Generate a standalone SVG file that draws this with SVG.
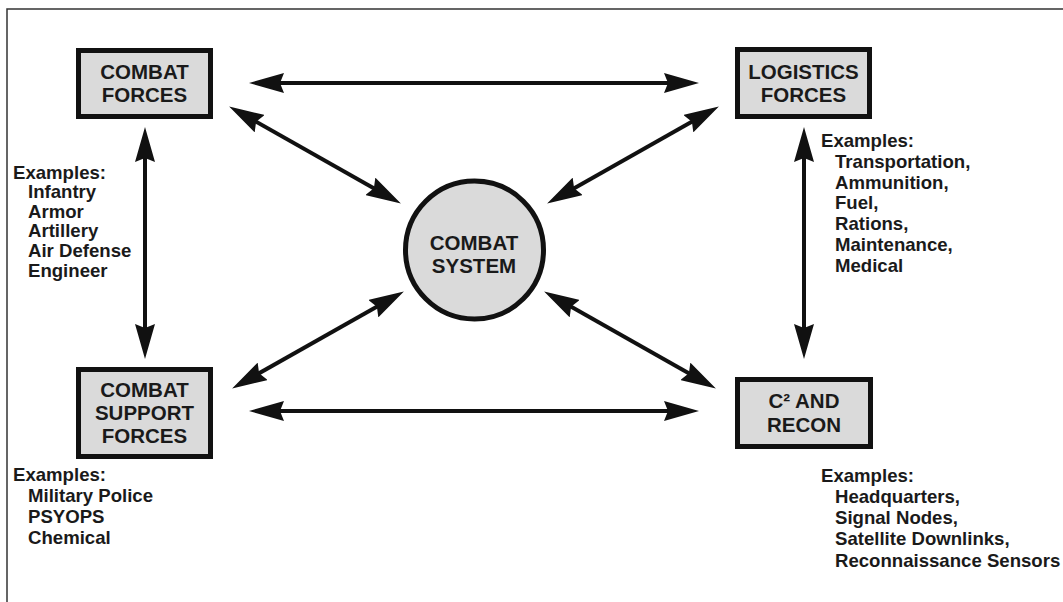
<svg xmlns="http://www.w3.org/2000/svg" width="1063" height="602" viewBox="0 0 1063 602">
<defs>
<style>
.box{fill:#dadada;stroke:#111;stroke-width:5}
.t{font-family:"Liberation Sans",Arial,sans-serif;font-weight:bold;fill:#1a1a1a}
.nt{font-size:20.5px;text-anchor:middle}
.ex{font-size:18.6px}
.c{stroke:#111;stroke-width:4;fill:none;marker-start:url(#ah);marker-end:url(#ah)}
</style>
<marker id="ah" markerUnits="userSpaceOnUse" viewBox="0 0 35 20" refX="14" refY="10" markerWidth="35" markerHeight="20" orient="auto-start-reverse">
<path d="M0,0 L35,10 L0,20 L4,10 Z" fill="#111"/>
</marker>
</defs>
<rect width="1063" height="602" fill="#fff"/>
<path d="M7,602 L7,9 L1063,9" fill="none" stroke="#333" stroke-width="1.5"/>

<g id="connectors">
<line class="c" x1="270" y1="83" x2="678" y2="83"/>
<line class="c" x1="270" y1="411" x2="678" y2="411"/>
<line class="c" x1="145" y1="148" x2="145" y2="338"/>
<line class="c" x1="804" y1="148" x2="804" y2="338"/>
<line class="c" x1="247.4" y1="116.8" x2="382.6" y2="193.2"/>
<line class="c" x1="700.6" y1="116.8" x2="565.4" y2="193.2"/>
<line class="c" x1="250.4" y1="378.2" x2="385.6" y2="301.8"/>
<line class="c" x1="697.6" y1="378.2" x2="562.4" y2="301.8"/>
</g>

<g id="combat-forces">
<rect class="box" x="78.5" y="50.5" width="132" height="66"/>
<text class="t nt" x="144.5" y="79">COMBAT</text>
<text class="t nt" x="144.5" y="102">FORCES</text>
</g>

<g id="logistics-forces">
<rect class="box" x="737.5" y="49.5" width="132" height="67"/>
<text class="t nt" x="803.5" y="79">LOGISTICS</text>
<text class="t nt" x="803.5" y="102">FORCES</text>
</g>

<g id="combat-support-forces">
<rect class="box" x="78.5" y="369.5" width="132" height="87"/>
<text class="t nt" x="144.5" y="397">COMBAT</text>
<text class="t nt" x="144.5" y="420">SUPPORT</text>
<text class="t nt" x="144.5" y="443">FORCES</text>
</g>

<g id="c2-recon">
<rect class="box" x="737.5" y="379.5" width="133" height="67"/>
<text class="t nt" x="804" y="408">C² AND</text>
<text class="t nt" x="804" y="432">RECON</text>
</g>

<g id="combat-system">
<circle cx="474.5" cy="250" r="69" fill="#dadada" stroke="#111" stroke-width="5"/>
<text class="t nt" x="474" y="250">COMBAT</text>
<text class="t nt" x="474" y="273">SYSTEM</text>
</g>

<g id="combat-forces-examples" class="t ex">
<text x="13" y="179">Examples:</text>
<text x="28" y="198">Infantry</text>
<text x="28" y="218">Armor</text>
<text x="28" y="237">Artillery</text>
<text x="28" y="257">Air Defense</text>
<text x="28" y="277">Engineer</text>
</g>

<g id="logistics-examples" class="t ex">
<text x="821" y="147">Examples:</text>
<text x="835" y="168">Transportation,</text>
<text x="835" y="189">Ammunition,</text>
<text x="835" y="209">Fuel,</text>
<text x="835" y="230">Rations,</text>
<text x="835" y="251">Maintenance,</text>
<text x="835" y="272">Medical</text>
</g>

<g id="combat-support-examples" class="t ex">
<text x="13" y="481">Examples:</text>
<text x="28" y="502">Military Police</text>
<text x="28" y="523">PSYOPS</text>
<text x="28" y="544">Chemical</text>
</g>

<g id="c2-examples" class="t ex">
<text x="821" y="482">Examples:</text>
<text x="835" y="503">Headquarters,</text>
<text x="835" y="524">Signal Nodes,</text>
<text x="835" y="545">Satellite Downlinks,</text>
<text x="835" y="567">Reconnaissance Sensors</text>
</g>
</svg>
